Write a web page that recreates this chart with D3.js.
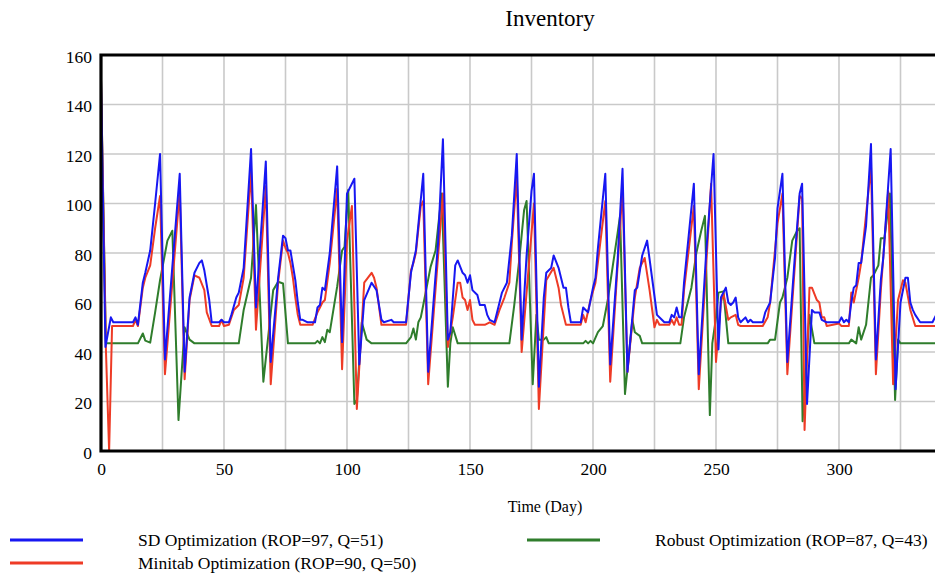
<!DOCTYPE html>
<html>
<head>
<meta charset="utf-8">
<script src="https://cdn.jsdelivr.net/npm/d3@7"></script>
<style>
  html, body { margin: 0; padding: 0; background: #fff; }
  svg { display: block; }
  text { font-family: "Liberation Serif", "Times New Roman", serif; fill: #000; }
</style>
</head>
<body>
<svg id="chart" width="935" height="578"></svg>
<script>
// ---------- DATA ----------
const xTicks = [0, 50, 100, 150, 200, 250, 300];
const yTicks = [0, 20, 40, 60, 80, 100, 120, 140, 160];

const seriesNames = [
  "SD Optimization (ROP=97, Q=51)",
  "Minitab Optimization (ROP=90, Q=50)",
  "Robust Optimization (ROP=87, Q=43)"
];

const sdDays = [0,1.8,4,5,13,14,15,17,18,20,22,24,26,32,34,36,38,40,41,42,44,45,48,49,50,52,53,55,56,58,61,63,67,69,72,74,75,76,77,79,80,81,82,84,87,88,89,90,91,93,96,98,100,103,105,107,110,112,114,115,118,119,124,126,128,131,133,137,139,141,142,144,145,147,148,149,150,151,153,154,156,157,158,160,162,163,165,167,169,171,173,175,176,178,180,181,183,184,186,187,188,189,190,191,195,196,197,198,200,201,202,205,207,210,212,214,217,218,220,222,224,226,228,229,231,232,233,234,235,236,237,239,241,243,246,249,251,252,254,255,256,257,258,259,260,262,263,264,265,269,270,272,274,275,277,279,282,284,285,287,289,290,292,293,295,300,301,302,303,304,305,306,307,308,309,311,313,315,317,318,321,323,325,327,328,329,330,331,333,338,340,343];
const sdValues = [150,42,54,52,52,54,51,68,72,81,100,120,37,112,32,62,72,76,77,73,61,52,52,53,52,52,55,62,64,74,122,58,117,36,70,87,86,81,81,69,60,53,53,52,52,58,59,66,65,80,115,44,104,110,35,61,68,65,53,52,53,52,52,72,81,112,32,84,126,45,48,75,77,72,71,68,71,65,63,59,59,55,53,52,60,64,68,87,120,45,79,105,112,26,62,72,74,79,74,70,66,66,58,52,52,58,57,56,66,70,82,112,35,77,114,32,65,66,79,85,70,55,53,52,52,55,54,58,54,54,68,88,108,31,80,120,41,62,66,60,59,60,62,54,52,54,52,53,52,52,56,60,78,98,112,36,78,104,108,19,57,56,56,53,52,52,54,52,53,52,60,66,67,76,76,91,124,37,69,78,122,25,60,70,70,60,57,55,52,52,56,60];

const mtDays = [0,2,3.3,4.5,13,14,15,17,18,20,22,24,26,32,34,36,38,40,42,43,45,48,49,50,52,54,56,58,61,63,67,69,72,74,75,76,77,78,79,80,81,86,88,89,90,91,93,96,98,100,102,104,107,110,111,112,114,124,126,127,128,130,131,133,139,141,143,145,146,147,148,149,150,151,152,156,158,160,162,164,166,167,169,171,176,178,181,184,186,187,188,189,195,196,197,199,201,205,207,212,214,217,219,221,223,225,226,227,231,232,233,234,235,236,237,241,243,248,250,252,253,255,256,258,259,260,269,271,272,275,277,279,284,285,286,288,289,291,292,293,294,295,300,301,304,305,306,308,309,313,315,317,320,322,324,326,327,329,331,345];
const mtValues = [150,41,0,50.5,50.5,53,50.5,66,70,75,90,103,31,105,29,61,71,70,65,56,50.5,50.5,53,50.5,51,57,59,70,113,49,107,27,68,85,82,80,76,70,62,55,51,51,56,58,60,61,76,106,33,85,99,17,68,72,70,66,51,51,73,76,80,99,101,27,104,42,54,68,68,62,61,57,61,53,51,51,52,51,57,62,68,84,111,40,100,17,69,74,66,59,55,51,51,55,52,61,68,101,28,106,32,62,74,78,65,50,53,51,51,53,51,54,51,51,65,99,25,108,36,60,64,53,54,55,51,50.5,50.5,54,60,92,104,31,103,102,8.5,66,66,61,60,54,54,50.5,51.5,50.5,50.5,64,60,70,76,115,31,65,105,27,61,69,68,57,50.5,50.5];

const roDays = [0,2,15,17,18,20,22,24,27,29,31.5,34,36,38,56,58,61,63,66,70,72,74,76,87,88,89,90,91,92,93,96,98,99,100.5,103,104,106,108,110,124,126,127,128,129,130,131,134,136,138.5,141,142,143,145,166,168,170,172,173,175.5,177,178,180,181,182,196,197,198,199,200,202,204,206,208,210,211,213,216,217,219,220,235.5,237,240,242,244,245.5,247.5,248.5,250,251,253,255,271,272,274,276,277,279,281,283,284,285.2,288,290,304,305,307,308,309,311,313,314,316,317,318.5,320.7,322.8,324,325,345];
const roValues = [150,43.5,43.5,47.5,44.6,43.8,56,69,85,89,12.5,50,45,43.5,43.5,57,70,99.4,28,65,68.4,67.7,43.5,43.5,44.5,43.5,46,44,49,48,66.4,81,82.5,105.5,19,20.6,52,45,43.5,43.5,46,49.5,45,52,54,59,74.5,81,104,26,43.5,50,43.5,43.5,59,77,97.4,101,27,55,45,45,46,43.5,43.5,44.5,43.5,44.5,43.5,48,50.5,61,74.5,88,95,23,53,48,46.5,43.5,43.5,54,66,80,89,95,14.5,43.5,54,64,64.5,43.5,43.5,45,45,60,62,70,85,89,90,12,55,43.5,43.5,45,43.5,50,45,51,70,71,75,86,86,104,20.6,45,43.5,43.5];

const seriesColors = ["#1717f2", "#ee3b26", "#2f7d2c"];

// ---------- LAYOUT ----------
const svg = d3.select("#chart");
const plotLeft = 101, plotTop = 55, plotBottom = 451;
const x = d3.scaleLinear().domain([0, 300]).range([plotLeft, 839]);
const y = d3.scaleLinear().domain([0, 160]).range([plotBottom, plotTop]);

// clip
svg.append("defs").append("clipPath").attr("id", "plotclip")
  .append("rect").attr("x", plotLeft).attr("y", plotTop).attr("width", 1000).attr("height", plotBottom - plotTop);

// gridlines
const gridX = d3.range(25, 375, 25);
svg.append("g").selectAll("line").data(gridX).join("line")
  .attr("x1", d => x(d)).attr("x2", d => x(d))
  .attr("y1", plotTop).attr("y2", plotBottom)
  .attr("stroke", "#c9c9c9").attr("stroke-width", 1.6);
svg.append("g").selectAll("line").data(yTicks.filter(v => v > 0 && v < 160)).join("line")
  .attr("x1", plotLeft).attr("x2", 935)
  .attr("y1", d => y(d)).attr("y2", d => y(d))
  .attr("stroke", "#c9c9c9").attr("stroke-width", 1.6);

// series
const seriesData = [
  sdDays.map((d, i) => [d, sdValues[i]]),
  mtDays.map((d, i) => [d, mtValues[i]]),
  roDays.map((d, i) => [d, roValues[i]])
];
const line = d3.line().x(d => x(d[0])).y(d => y(d[1]));
const plot = svg.append("g").attr("clip-path", "url(#plotclip)");
[2, 1, 0].forEach(k => {
  plot.append("path").datum(seriesData[k])
    .attr("d", line)
    .attr("fill", "none")
    .attr("stroke", seriesColors[k])
    .attr("stroke-width", 2)
    .attr("stroke-linejoin", "round");
});

// frame (top, left, bottom)
svg.append("path")
  .attr("d", `M940,${plotTop} L${plotLeft},${plotTop} L${plotLeft},${plotBottom} L940,${plotBottom}`)
  .attr("fill", "none").attr("stroke", "#000").attr("stroke-width", 3.2);

// axes
const yAxis = d3.axisLeft(y).tickValues(yTicks).tickSize(0).tickPadding(9);
const gy = svg.append("g").attr("transform", `translate(${plotLeft},0)`).call(yAxis);
gy.select(".domain").remove();
gy.selectAll("text").attr("font-size", "17.5px").attr("dy", "0.42em")
  .style("font-family", '"Liberation Serif", "Times New Roman", serif').attr("fill", "#000");

const xAxis = d3.axisBottom(x).tickValues(xTicks).tickSize(0).tickPadding(12);
const gx = svg.append("g").attr("transform", `translate(0,${plotBottom})`).call(xAxis);
gx.select(".domain").remove();
gx.selectAll("text").attr("font-size", "17.5px")
  .style("font-family", '"Liberation Serif", "Times New Roman", serif').attr("fill", "#000");

// title
svg.append("text").attr("x", 550).attr("y", 26).attr("text-anchor", "middle")
  .attr("font-size", "23px").text("Inventory");

// x axis title
svg.append("text").attr("x", 545).attr("y", 512).attr("text-anchor", "middle")
  .attr("font-size", "16px").text("Time (Day)");

// legend
const legendItems = [
  { name: seriesNames[0], color: seriesColors[0], lx: 10, tx: 138, y: 540 },
  { name: seriesNames[1], color: seriesColors[1], lx: 10, tx: 138, y: 563 },
  { name: seriesNames[2], color: seriesColors[2], lx: 527, tx: 655, y: 540 }
];
const lg = svg.append("g");
legendItems.forEach(it => {
  lg.append("line").attr("x1", it.lx).attr("x2", it.lx + 73)
    .attr("y1", it.y).attr("y2", it.y)
    .attr("stroke", it.color).attr("stroke-width", 3);
  lg.append("text").attr("x", it.tx).attr("y", it.y + 6)
    .attr("font-size", "17.5px").text(it.name);
});
</script>
</body>
</html>
